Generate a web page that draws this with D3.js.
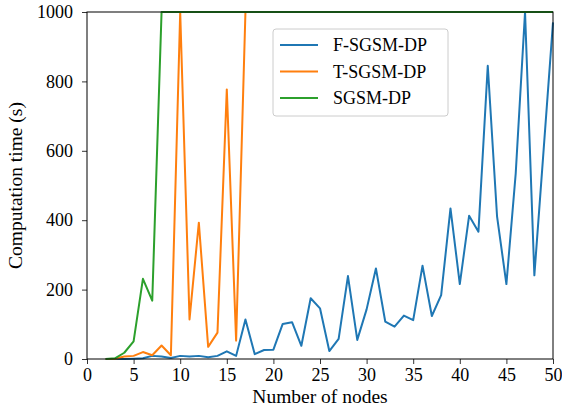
<!DOCTYPE html>
<html>
<head>
<meta charset="utf-8">
<script src="https://cdn.jsdelivr.net/npm/d3@7"></script>
<style>
  body { margin: 0; background: #fff; }
  text { font-family: "Liberation Serif", "Times New Roman", serif; fill: #000; }
</style>
</head>
<body>
<div id="chart"></div>
<script>
const width = 562;
const height = 407;
const margin = {top: 12, right: 9, bottom: 48, left: 87};
const serif = "'Liberation Serif', 'Times New Roman', serif";

const nodes = [2, 3, 4, 5, 6, 7, 8, 9, 10, 11, 12, 13, 14, 15, 16, 17, 18, 19, 20,
    21, 22, 23, 24, 25, 26, 27, 28, 29, 30, 31, 32, 33, 34, 35, 36, 37, 38, 39, 40,
    41, 42, 43, 44, 45, 46, 47, 48, 49, 50];

const fSgsm = [0, 0, 0, 1, 2, 9, 7, 3, 9, 7, 9, 5, 9, 22, 9, 114, 14, 26, 27,
    101, 106, 38, 175, 146, 23, 58, 239, 55, 143, 261, 108, 93, 125, 112, 269, 124, 184, 434, 216,
    413, 367, 845, 410, 216, 535, 1000, 241, 605, 970];

const tSgsm = [0, 1, 7, 9, 20, 11, 39, 11, 1000, 114, 393, 35, 76, 777, 53, 1000, 1000, 1000, 1000,
    1000, 1000, 1000, 1000, 1000, 1000, 1000, 1000, 1000, 1000, 1000, 1000, 1000, 1000, 1000, 1000, 1000, 1000, 1000, 1000,
    1000, 1000, 1000, 1000, 1000, 1000, 1000, 1000, 1000, 1000];

const sgsm = [0, 2, 18, 51, 231, 168, 1000, 1000, 1000, 1000, 1000, 1000, 1000, 1000, 1000, 1000, 1000, 1000, 1000,
    1000, 1000, 1000, 1000, 1000, 1000, 1000, 1000, 1000, 1000, 1000, 1000, 1000, 1000, 1000, 1000, 1000, 1000, 1000, 1000,
    1000, 1000, 1000, 1000, 1000, 1000, 1000, 1000, 1000, 1000];

const xTicks = [0, 5, 10, 15, 20, 25, 30, 35, 40, 45, 50];
const yTicks = [0, 200, 400, 600, 800, 1000];

const series = [
    {name: "F-SGSM-DP", values: fSgsm, color: "#1f77b4"},
    {name: "T-SGSM-DP", values: tSgsm, color: "#ff7f0e"},
    {name: "SGSM-DP", values: sgsm, color: "#2ca02c"}
];

const svg = d3.select("#chart")
    .append("svg")
    .attr("width", width)
    .attr("height", height);

const x = d3.scaleLinear()
    .domain([0, 50])
    .range([margin.left, width - margin.right]);

const y = d3.scaleLinear()
    .domain([0, 1000])
    .range([height - margin.bottom, margin.top]);

// axes
const xAxis = svg.append("g")
    .attr("transform", `translate(0,${height - margin.bottom})`)
    .call(d3.axisBottom(x).tickValues(xTicks).tickFormat(d3.format("d"))
        .tickSize(5).tickPadding(4).tickSizeOuter(0));
xAxis.attr("font-family", serif).attr("font-size", null);
xAxis.select(".domain").remove();
xAxis.selectAll("text").style("font-size", "18px").style("font-family", serif);
xAxis.selectAll("line").attr("stroke-width", 0.8);

const yAxis = svg.append("g")
    .attr("transform", `translate(${margin.left},0)`)
    .call(d3.axisLeft(y).tickValues(yTicks).tickFormat(d3.format("d"))
        .tickSize(5).tickPadding(9).tickSizeOuter(0));
yAxis.attr("font-family", serif).attr("font-size", null);
yAxis.select(".domain").remove();
yAxis.selectAll("text").style("font-size", "18px").style("font-family", serif);
yAxis.selectAll("line").attr("stroke-width", 0.8);

// lines
const line = d3.line()
    .x((d, i) => x(nodes[i]))
    .y(d => y(d));

svg.selectAll(".series")
    .data(series)
    .join("path")
    .attr("class", "series")
    .attr("fill", "none")
    .attr("stroke", d => d.color)
    .attr("stroke-width", 2)
    .attr("stroke-linejoin", "round")
    .attr("d", d => line(d.values));

// frame
svg.append("rect")
    .attr("x", margin.left)
    .attr("y", margin.top)
    .attr("width", width - margin.left - margin.right)
    .attr("height", height - margin.top - margin.bottom)
    .attr("fill", "none")
    .attr("stroke", "#000")
    .attr("stroke-width", 1);

// axis labels
svg.append("text")
    .attr("x", (margin.left + width - margin.right) / 2)
    .attr("y", 403)
    .attr("text-anchor", "middle")
    .style("font-size", "19.5px")
    .text("Number of nodes");

svg.append("text")
    .attr("transform", `translate(22,${(margin.top + height - margin.bottom) / 2}) rotate(-90)`)
    .attr("text-anchor", "middle")
    .style("font-size", "19.5px")
    .text("Computation time (s)");

// legend
const legend = svg.append("g")
    .attr("transform", "translate(273,29)");

legend.append("rect")
    .attr("width", 175)
    .attr("height", 87)
    .attr("rx", 3)
    .attr("fill", "#fff")
    .attr("fill-opacity", 0.8)
    .attr("stroke", "#ccc")
    .attr("stroke-width", 1);

const items = legend.selectAll(".item")
    .data(series)
    .join("g")
    .attr("class", "item")
    .attr("transform", (d, i) => `translate(0,${16 + i * 26.5})`);

items.append("line")
    .attr("x1", 7)
    .attr("x2", 45)
    .attr("stroke", d => d.color)
    .attr("stroke-width", 2);

items.append("text")
    .attr("x", 60)
    .attr("dy", "0.35em")
    .style("font-size", "18px")
    .text(d => d.name);
</script>
</body>
</html>
